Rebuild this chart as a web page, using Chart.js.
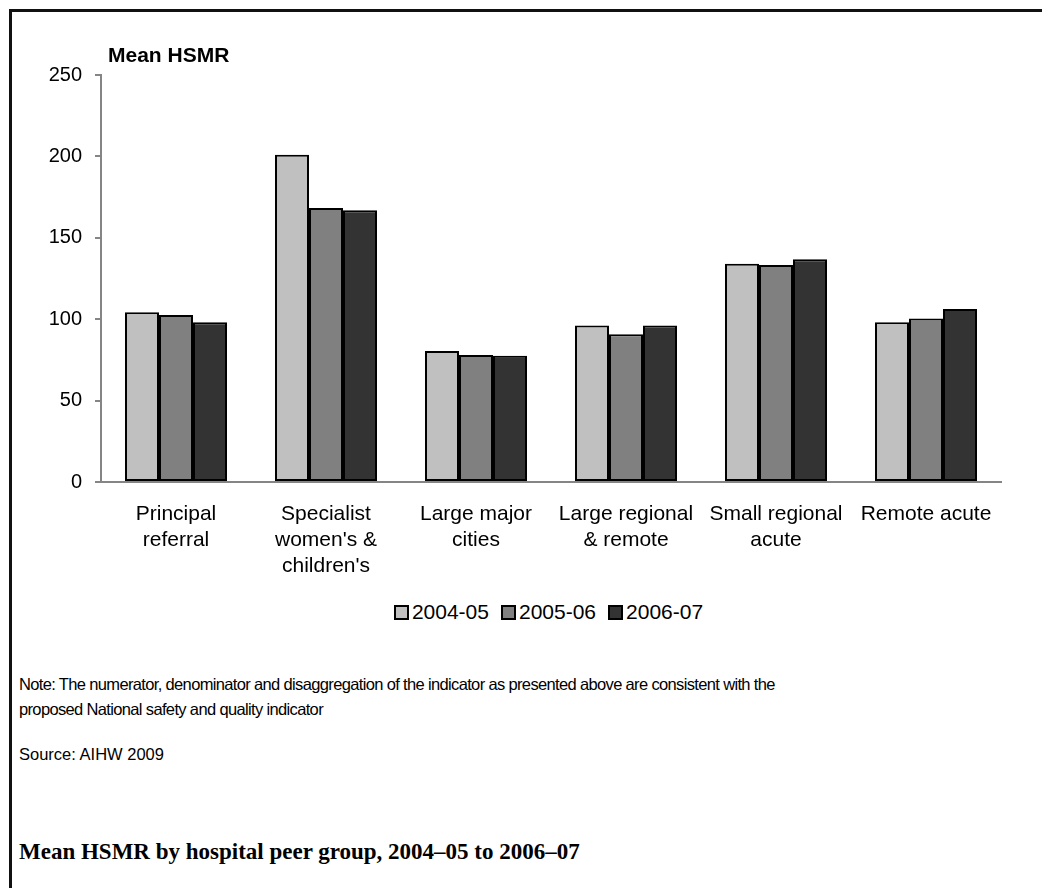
<!DOCTYPE html>
<html>
<head>
<meta charset="utf-8">
<script src="https://cdn.jsdelivr.net/npm/chart.js@4/dist/chart.umd.min.js"></script>
<style>
  body { margin: 0; background: #fff; font-family: "Liberation Sans", Arial, sans-serif; }
  #page { position: relative; width: 1042px; height: 888px; overflow: hidden; }
  #frame { position: absolute; left: 9px; top: 9px; width: 1200px; height: 1000px;
           border-left: 3px solid #111; border-top: 3px solid #111; }
  #chart { position: absolute; left: 0; top: 0; }
  #ytitle { position: absolute; left: 108px; top: 43px; font-weight: bold; font-size: 21px; line-height: 24px; }
  #legend { position: absolute; left: 0; width: 1097px; top: 600px; height: 24px;
            display: flex; justify-content: center; align-items: center; font-size: 21px; }
  .item { display: flex; align-items: center; margin: 0 6px; }
  .box { width: 11px; height: 11px; border: 2px solid #000; margin-right: 3px; }
  #note { position: absolute; left: 19px; top: 672px; font-size: 16.5px; line-height: 25px; letter-spacing: -0.65px; }
  #source { position: absolute; left: 19px; top: 742px; font-size: 16.5px; line-height: 25px; }
  #caption { position: absolute; left: 19px; top: 838px; font-family: "Liberation Serif", serif;
             font-weight: bold; font-size: 23px; line-height: 28px; }
</style>
</head>
<body>
<div id="page">
  <div id="frame"></div>
  <canvas id="chart" width="1042" height="600"></canvas>
  <div id="ytitle">Mean HSMR</div>
  <div id="legend"></div>
  <div id="note">Note: The numerator, denominator and disaggregation of the indicator as presented above are consistent with the<br>proposed National safety and quality indicator</div>
  <div id="source">Source: AIHW 2009</div>
  <div id="caption">Mean HSMR by hospital peer group, 2004–05 to 2006–07</div>
</div>
<script>
var categories = [
  ["Principal", "referral"],
  ["Specialist", "women's &", "children's"],
  ["Large major", "cities"],
  ["Large regional", "& remote"],
  ["Small regional", "acute"],
  ["Remote acute"]
];
var seriesNames = ["2004-05", "2005-06", "2006-07"];
var values0405 = [104.2, 201.0, 80.5, 96.2, 134.1, 98.1];
var values0506 = [102.6, 168.3, 78.0, 90.7, 133.3, 100.5];
var values0607 = [98.1, 166.9, 77.6, 96.2, 136.8, 106.3];
var colors = ["#c0c0c0", "#808080", "#333333"];

var seriesValues = [values0405, values0506, values0607];
var datasets = seriesNames.map(function(name, i) {
  return {
    label: name,
    data: seriesValues[i],
    backgroundColor: colors[i],
    borderColor: "#000",
    borderWidth: 2,
    borderSkipped: false
  };
});

var ctx = document.getElementById('chart');
var chart = new Chart(ctx, {
  type: 'bar',
  data: { labels: categories, datasets: datasets },
  options: {
    responsive: false,
    animation: false,
    events: [],
    layout: { padding: { left: 0, right: 41, top: 75, bottom: 18 } },
    plugins: { legend: { display: false }, tooltip: { enabled: false } },
    datasets: { bar: { categoryPercentage: 0.68, barPercentage: 1.0 } },
    scales: {
      x: {
        grid: { display: false },
        border: { display: true, color: '#858585', width: 2 },
        ticks: {
          color: '#000', padding: 11, maxRotation: 0, autoSkip: false,
          font: { family: 'Liberation Sans', size: 21, lineHeight: 1.24 }
        },
        afterFit: function(scale) { scale.height = 100; }
      },
      y: {
        min: 0, max: 250,
        grid: { display: true, drawOnChartArea: false, drawTicks: true, tickLength: 6, color: '#858585', lineWidth: 2 },
        border: { display: true, color: '#858585', width: 2 },
        ticks: {
          stepSize: 50, color: '#000', padding: 13,
          font: { family: 'Liberation Sans', size: 20 }
        },
        afterFit: function(scale) { scale.width = 101; }
      }
    }
  }
});

var legend = document.getElementById('legend');
chart.data.datasets.forEach(function(ds) {
  var item = document.createElement('div');
  item.className = 'item';
  var box = document.createElement('div');
  box.className = 'box';
  box.style.background = ds.backgroundColor;
  var text = document.createElement('span');
  text.textContent = ds.label;
  item.appendChild(box);
  item.appendChild(text);
  legend.appendChild(item);
});
</script>
</body>
</html>
